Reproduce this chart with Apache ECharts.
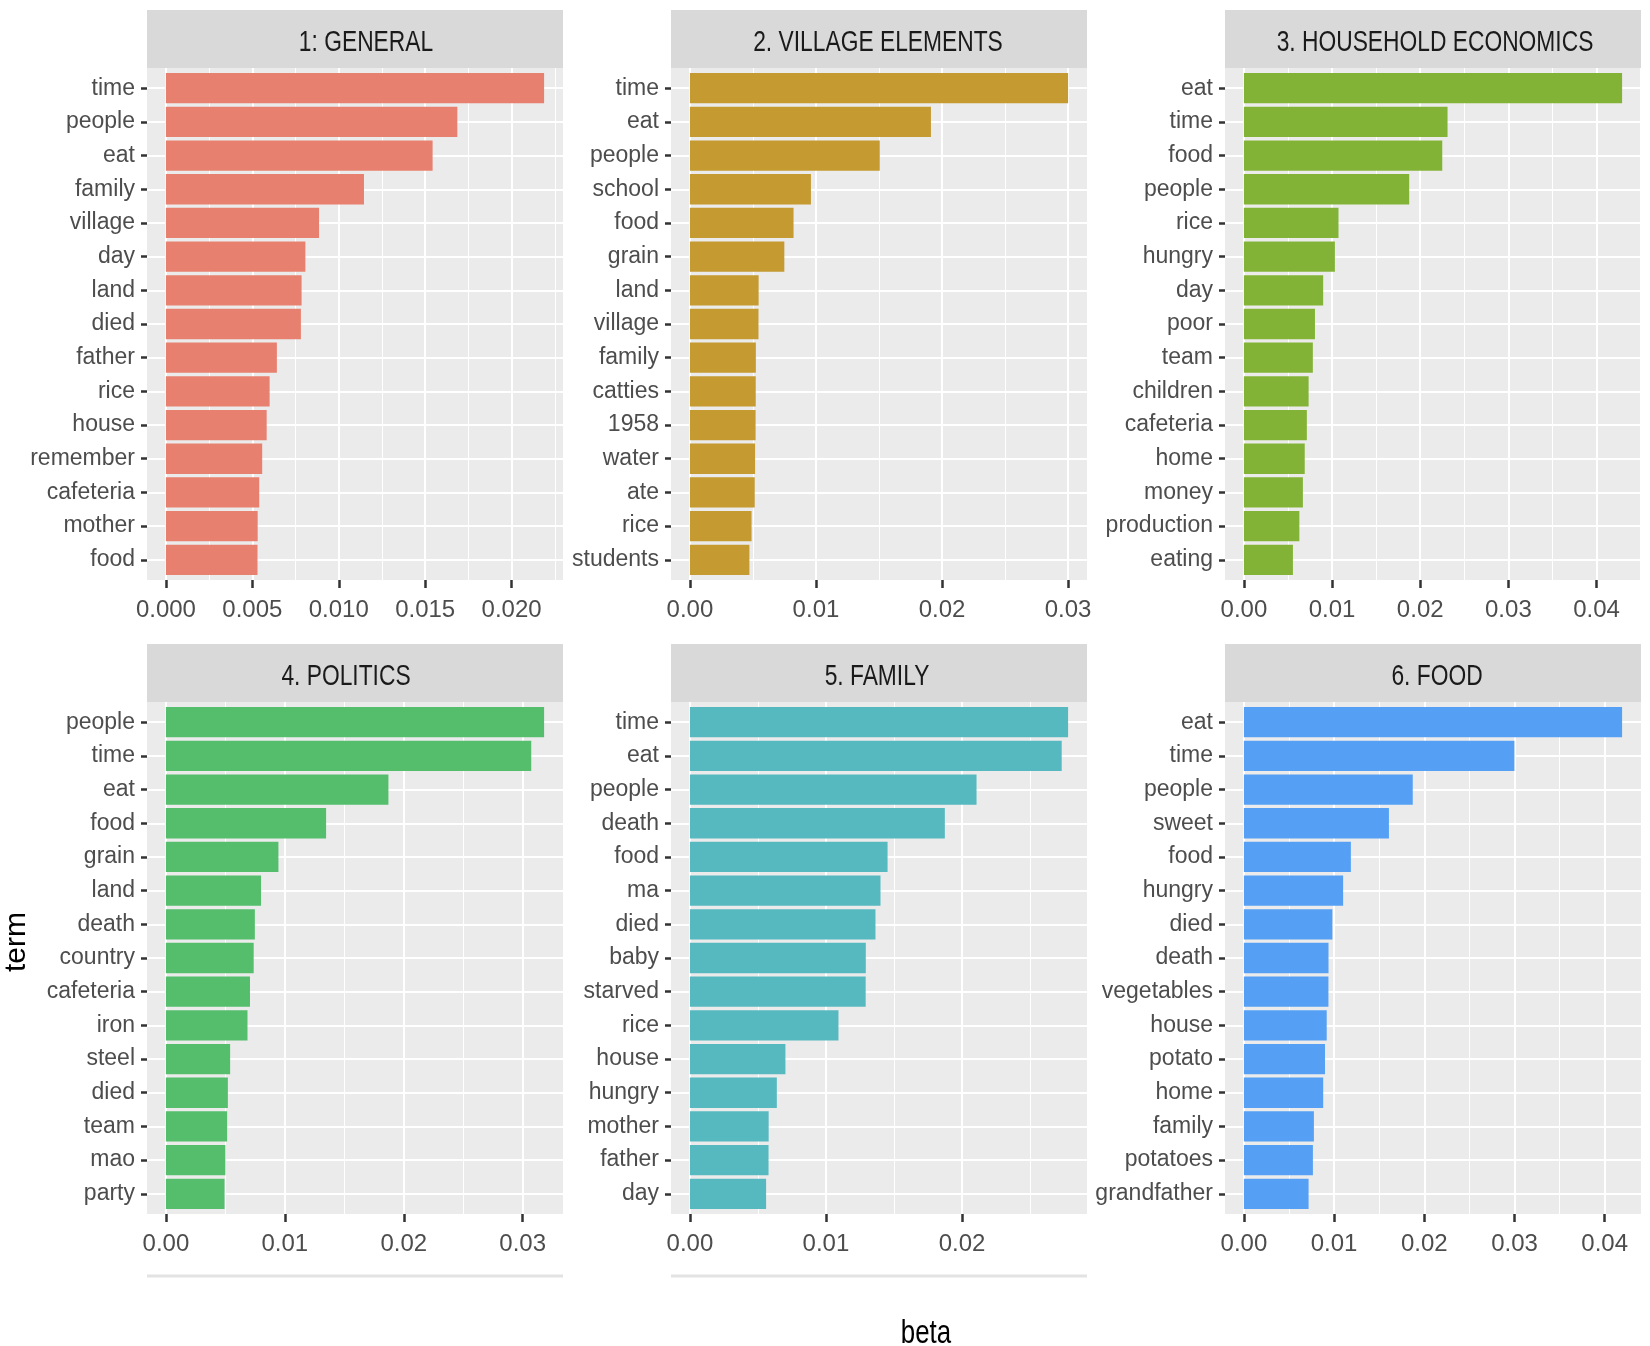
<!DOCTYPE html>
<html>
<head>
<meta charset="utf-8">
<title>topic terms</title>
<script src="https://cdn.jsdelivr.net/npm/echarts@6/dist/echarts.min.js"></script>
<style>html,body{margin:0;padding:0;background:#fff;}</style>
</head>
<body>
<div id="main" style="width:1650px;height:1346px;"></div>
<script>
// facet titles
var titles = ['1: GENERAL', '2. VILLAGE ELEMENTS', '3. HOUSEHOLD ECONOMICS', '4. POLITICS', '5. FAMILY', '6. FOOD'];

// top terms per topic (top to bottom) and their beta
var terms1 = ['time', 'people', 'eat', 'family', 'village', 'day', 'land', 'died', 'father', 'rice', 'house', 'remember', 'cafeteria', 'mother', 'food'];
var beta1 = [0.02188, 0.01686, 0.01543, 0.01146, 0.00886, 0.00807, 0.00785, 0.00781, 0.00642, 0.00600, 0.00583, 0.00557, 0.00540, 0.00531, 0.00530];

var terms2 = ['time', 'eat', 'people', 'school', 'food', 'grain', 'land', 'village', 'family', 'catties', '1958', 'water', 'ate', 'rice', 'students'];
var beta2 = [0.03000, 0.01912, 0.01506, 0.00960, 0.00822, 0.00749, 0.00545, 0.00544, 0.00523, 0.00522, 0.00521, 0.00517, 0.00514, 0.00489, 0.00472];

var terms3 = ['eat', 'time', 'food', 'people', 'rice', 'hungry', 'day', 'poor', 'team', 'children', 'cafeteria', 'home', 'money', 'production', 'eating'];
var beta3 = [0.04290, 0.02310, 0.02250, 0.01875, 0.01073, 0.01032, 0.00899, 0.00806, 0.00782, 0.00734, 0.00714, 0.00690, 0.00669, 0.00629, 0.00556];

var terms4 = ['people', 'time', 'eat', 'food', 'grain', 'land', 'death', 'country', 'cafeteria', 'iron', 'steel', 'died', 'team', 'mao', 'party'];
var beta4 = [0.03180, 0.03072, 0.01871, 0.01347, 0.00946, 0.00800, 0.00748, 0.00738, 0.00707, 0.00686, 0.00540, 0.00521, 0.00515, 0.00500, 0.00493];

var terms5 = ['time', 'eat', 'people', 'death', 'food', 'ma', 'died', 'baby', 'starved', 'rice', 'house', 'hungry', 'mother', 'father', 'day'];
var beta5 = [0.02780, 0.02733, 0.02107, 0.01874, 0.01453, 0.01401, 0.01364, 0.01293, 0.01292, 0.01092, 0.00702, 0.00639, 0.00579, 0.00578, 0.00560];

var terms6 = ['eat', 'time', 'people', 'sweet', 'food', 'hungry', 'died', 'death', 'vegetables', 'house', 'potato', 'home', 'family', 'potatoes', 'grandfather'];
var beta6 = [0.04193, 0.02999, 0.01872, 0.01608, 0.01186, 0.01100, 0.00981, 0.00938, 0.00937, 0.00918, 0.00899, 0.00879, 0.00776, 0.00765, 0.00717];

// x tick step and label decimals per panel
var tickStep = [0.005, 0.01, 0.01, 0.01, 0.01, 0.01];
var tickDigits = [3, 2, 2, 2, 2, 2];

var colors = ['#E8806F', '#C49A31', '#83B336', '#55BE6C', '#57B9C0', '#55A0F4'];

var termLists = [terms1, terms2, terms3, terms4, terms5, terms6];
var betaLists = [beta1, beta2, beta3, beta4, beta5, beta6];

// layout
var FONT = "'Liberation Sans', Arial, sans-serif";
var colLeft = [147, 671, 1225];
var rowTop = [10, 644];
var panelW = 416, stripH = 58, panelH = 512;
var titleShift = [11, -1, 2, -9, -2, 4];
var squeeze = 0.76; // the source figure is horizontally compressed

var grids = [], xAxes = [], yAxes = [], series = [], graphics = [];

termLists.forEach(function (terms, p) {
    var vals = betaLists[p];
    var left = colLeft[p % 3];
    var stripTop = rowTop[Math.floor(p / 3)];
    var top = stripTop + stripH;
    var M = Math.max.apply(null, vals);
    var lo = -0.05 * M, hi = 1.05 * M;       // ggplot default 5% expansion
    var band = panelH / (terms.length + 0.2); // discrete expansion 0.6 each side
    var step = tickStep[p];
    var major = [], minor = [], idx = [];
    for (var k = 0; k * step <= hi + 1e-12; k++) major.push(+(k * step).toFixed(6));
    for (var k = 0; (k + 0.5) * step <= hi; k++) minor.push(+((k + 0.5) * step).toFixed(6));
    for (var i = 0; i < terms.length; i++) idx.push(i);

    var gA = grids.length;
    grids.push({ left: left, top: top, width: panelW, height: panelH, show: true, backgroundColor: '#EBEBEB', borderWidth: 0 });
    var gB = grids.length;
    grids.push({ left: left, top: top + 0.1 * band, width: panelW, height: band * terms.length, show: false });

    // major vertical lines + x labels
    xAxes.push({
        type: 'value', gridIndex: gA, position: 'bottom', min: lo, max: hi,
        axisLine: { show: false, onZero: false },
        axisTick: { show: true, length: 8, customValues: major, lineStyle: { color: '#333333', width: 2.5 } },
        axisLabel: {
            customValues: major, margin: 18, fontSize: 24, color: '#4D4D4D', fontFamily: FONT,
            formatter: function (v) { return v.toFixed(tickDigits[p]); }
        },
        splitLine: { show: true, lineStyle: { color: '#FFFFFF', width: 2 } }
    });
    // minor vertical lines
    xAxes.push({
        type: 'value', gridIndex: gA, position: 'top', min: lo, max: hi,
        axisLine: { show: false, onZero: false },
        axisTick: { show: false, customValues: minor },
        axisLabel: { show: false, customValues: minor },
        splitLine: { show: true, lineStyle: { color: '#FFFFFF', width: 1 } }
    });
    var xB = xAxes.length;
    xAxes.push({ type: 'value', gridIndex: gB, min: lo, max: hi, show: false, axisLine: { onZero: false } });

    // horizontal lines + term labels
    yAxes.push({
        type: 'value', gridIndex: gA, position: 'left', inverse: true, min: -0.6, max: terms.length - 0.4,
        axisLine: { show: false, onZero: false },
        axisTick: { show: true, length: 6, customValues: idx, lineStyle: { color: '#333333', width: 2.5 } },
        axisLabel: {
            customValues: idx, margin: 12, fontSize: 23, color: '#4D4D4D', fontFamily: FONT,
            formatter: function (v) { return terms[Math.round(v)]; }
        },
        splitLine: { show: true, lineStyle: { color: '#FFFFFF', width: 2 } }
    });
    var yB = yAxes.length;
    yAxes.push({ type: 'category', gridIndex: gB, inverse: true, data: terms, show: false, axisLine: { onZero: false } });

    series.push({
        type: 'bar', xAxisIndex: xB, yAxisIndex: yB, data: vals,
        barCategoryGap: '10%', itemStyle: { color: colors[p] }, silent: true
    });

    // facet strip
    graphics.push({
        type: 'rect', shape: { x: left, y: stripTop, width: panelW, height: stripH },
        style: { fill: '#D9D9D9' }, silent: true
    });
    graphics.push({
        type: 'text', x: left + panelW / 2 + titleShift[p], y: stripTop + stripH / 2 + 4, scaleX: squeeze,
        style: { text: titles[p], font: '30px ' + FONT, fill: '#1A1A1A', textAlign: 'center', textVerticalAlign: 'middle' },
        silent: true
    });
});

// faint rule under the bottom-left panels
[0, 1].forEach(function (c) {
    graphics.push({
        type: 'line', shape: { x1: colLeft[c], y1: 1276, x2: colLeft[c] + panelW, y2: 1276 },
        style: { stroke: '#E3E3E3', lineWidth: 3 }, silent: true
    });
});

// axis titles
graphics.push({
    type: 'text', x: 926, y: 1334, scaleX: squeeze,
    style: { text: 'beta', font: '34px ' + FONT, fill: '#000000', textAlign: 'center', textVerticalAlign: 'middle' }
});
graphics.push({
    type: 'text', x: 17, y: 942, rotation: Math.PI / 2,
    style: { text: 'term', font: '30px ' + FONT, fill: '#000000', textAlign: 'center', textVerticalAlign: 'middle' }
});

var myChart = echarts.init(document.getElementById('main'));
myChart.setOption({
    animation: false,
    backgroundColor: '#FFFFFF',
    grid: grids,
    xAxis: xAxes,
    yAxis: yAxes,
    series: series,
    graphic: graphics
});
</script>
</body>
</html>
